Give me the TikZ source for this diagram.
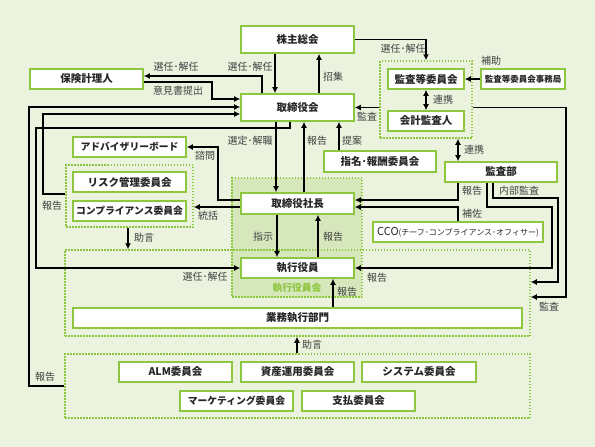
\documentclass[tikz,border=0pt]{standalone}
\usepackage{fontspec}
\setmainfont{Noto Sans CJK JP}
\usetikzlibrary{arrows.meta}
\definecolor{bg}{RGB}{235,243,222}
\definecolor{leaf}{RGB}{141,198,63}
\definecolor{panel}{RGB}{215,231,188}
\definecolor{ink}{RGB}{64,64,64}
\begin{document}
\begin{tikzpicture}[x=1pt,y=-1pt,
  box/.style={draw=leaf,line width=1.6pt,fill=white,minimum width=113pt,minimum height=20pt,
    inner sep=0pt,text=black!85,font=\fontsize{10.5}{12}\selectfont\bfseries},
  small/.style={font=\fontsize{9.8}{12}\selectfont\bfseries},
  grp/.style={draw=leaf,line width=1.5pt,dash pattern=on 1.5pt off 1.5pt,inner sep=0pt},
  lbl/.style={text=ink,inner sep=0pt,font=\fontsize{10}{11}\selectfont},
  arr/.style={line width=1.8pt,-{Latex[length=6pt,width=6pt]}},
  link/.style={line width=1.8pt,{Latex[length=6pt,width=6pt]}-{Latex[length=6pt,width=6pt]}}]
  \fill[bg] (0,0) rectangle (595,447);
  \useasboundingbox (0,0) rectangle (595,447);
  \node[grp,fill=panel,minimum width=130pt,minimum height=119pt] (yakuinkai) at (297,237.5) {};
  \node[grp,minimum width=465pt,minimum height=86pt] (shikkogrp) at (297.5,293) {};
  \node[grp,minimum width=465pt,minimum height=64pt] (botgrp) at (297.5,386) {};
  \node[grp,minimum width=127pt,minimum height=62pt] (riskgrp) at (129.5,196) {};
  \node[grp,minimum width=92pt,minimum height=77pt] (kansagrp) at (426,99.5) {};
  \node[text=leaf,inner sep=0pt,font=\fontsize{9.8}{11}\selectfont\bfseries] (yakuinkaiLbl) at (297,288) {執行役員会};

  \node[box,minimum height=27pt] (kabunushi) at (297.5,39.5) {株主総会};
  \node[box,minimum height=27pt] (torikai) at (297.5,107.5) {取締役会};
  \node[box] (hoken) at (86.5,79) {保険計理人};
  \node[box,small] (advisory) at (129.5,147) {アドバイザリーボード};
  \node[box] (risk) at (129.5,182) {リスク管理委員会};
  \node[box,small] (comp) at (129.5,211) {コンプライアンス委員会};
  \node[box,minimum height=21pt] (shacho) at (297.5,203.5) {取締役社長};
  \node[box] (shikko) at (297.5,268) {執行役員};
  \node[box,minimum width=449pt] (gyomu) at (297.5,318) {業務執行部門};
  \node[box,minimum width=112pt,minimum height=21pt] (shimei) at (380,161.5) {指名･報酬委員会};
  \node[box,minimum width=76pt] (kansaiin) at (426,79) {監査等委員会};
  \node[box,minimum width=76pt] (kaikei) at (426,121) {会計監査人};
  \node[box,minimum width=84pt,font=\fontsize{8.5}{10}\selectfont\bfseries] (jimukyoku) at (523,79) {監査等委員会事務局};
  \node[box,minimum width=112pt] (kansabu) at (501,172) {監査部};
  \node[box,minimum width=170pt,font=\mdseries] (cco) at (458,232)
    {{\fontsize{11}{12}\selectfont CCO}{\fontsize{8}{10}\selectfont(チーフ･コンプライアンス･オフィサー)}};
  \node[box] (alm) at (175.5,372) {ALM委員会};
  \node[box] (shisan) at (297.5,372) {資産運用委員会};
  \node[box,minimum width=114pt] (system) at (419,372) {システム委員会};
  \node[box,small] (marketing) at (236.5,401) {マーケティング委員会};
  \node[box] (shiharai) at (358.5,401) {支払委員会};

  \draw[arr] (kabunushi.south -| 275,0) -- (torikai.north -| 275,0);
  \draw[arr] (torikai.north -| 319,0) -- (kabunushi.south -| 319,0);
  \draw[arr] (torikai.north -| 262,0) |- (hoken.east |- 0,76);
  \draw[arr] (hoken.east |- 0,82) -| (212,99) -- (torikai.west |- 0,99);
  \draw[arr] (botgrp.west |- 0,386) -| (29,107) -- (torikai.west |- 0,107);
  \draw[arr] (riskgrp.west |- 0,194) -| (43,114) -- (torikai.west |- 0,114);
  \draw[arr] (torikai.south -| 290,0) -- (290,128) -| (36,268) -- (shikko.west);
  \draw[arr] (torikai.south -| 276,0) -- (shacho.north -| 276,0);
  \draw[arr] (shacho.north -| 304,0) -- (torikai.south -| 304,0);
  \draw[arr] (shimei.north -| 339,0) -- (torikai.south -| 339,0);
  \draw[arr] (shacho.west |- 0,200) -| (218,147) -- (advisory.east);
  \draw[arr] (shacho.west |- 0,207) -- (riskgrp.east |- 0,207);
  \draw[arr] (riskgrp.south -| 128,0) -- (shikkogrp.north -| 128,0);
  \draw[arr] (shacho.south -| 277,0) -- (shikko.north -| 277,0);
  \draw[arr] (shikko.north -| 318,0) -- (shacho.south -| 318,0);
  \draw[arr] (gyomu.north -| 333,0) -- (shikko.south -| 333,0);
  \draw[arr] (botgrp.north -| 297,0) -- (shikkogrp.south -| 297,0);
  \draw[arr] (kabunushi.east) -| (kansaiin.north |- kansagrp.north);
  \draw[arr] (jimukyoku) -- (kansaiin);
  \draw[link] (kansaiin) -- (kaikei);
  \draw[arr] (kansagrp.west |- torikai) -- (torikai.east);
  \draw[arr] (kansagrp.east |- torikai) -| (566,297) -- (shikkogrp.east |- 0,297);
  \draw[link] (kansagrp.south -| 458,0) -- (kansabu.north -| 458,0);
  \draw[arr] (kansabu.south -| 458,0) |- (shacho.east |- 0,200);
  \draw[arr] (cco.north -| 458,0) |- (shacho.east |- 0,207);
  \draw[arr] (kansabu.south -| 487,0) -- (487,207) -| (552,268) -- (shikko.east);
  \draw[arr] (kansabu.south -| 493,0) -- (493,198) -| (558,282) -- (shikkogrp.east |- 0,282);

  \node[lbl] (lSennin1) at (250,67) {選任･解任};
  \node[lbl] (lSennin2) at (176,67) {選任･解任};
  \node[lbl] (lShoshu) at (333,77) {招集};
  \node[lbl] (lIken) at (178,91) {意見書提出};
  \node[lbl] (lHokoku1) at (45,377) {報告};
  \node[lbl] (lHokoku2) at (52,206) {報告};
  \node[lbl] (lSennin3) at (205,277) {選任･解任};
  \node[lbl] (lSentei) at (250,141) {選定･解職};
  \node[lbl] (lHokoku3) at (317,141) {報告};
  \node[lbl] (lTeian) at (352,141) {提案};
  \node[lbl] (lShimon) at (205,156) {諮問};
  \node[lbl] (lTokatsu) at (208,216) {統括};
  \node[lbl] (lJogen1) at (144,238) {助言};
  \node[lbl] (lShiji) at (263,237) {指示};
  \node[lbl] (lHokoku4) at (333,237) {報告};
  \node[lbl] (lHokoku5) at (347,292) {報告};
  \node[lbl] (lJogen2) at (312,345) {助言};
  \node[lbl] (lSennin4) at (403,49) {選任･解任};
  \node[lbl] (lHojo) at (491,61) {補助};
  \node[lbl] (lRenkei1) at (443,100) {連携};
  \node[lbl] (lKansa1) at (367,117) {監査};
  \node[lbl] (lKansa2) at (549,307) {監査};
  \node[lbl] (lRenkei2) at (474,150) {連携};
  \node[lbl] (lHokoku6) at (472,191) {報告};
  \node[lbl] (lHosa) at (472,214) {補佐};
  \node[lbl] (lHokoku7) at (377,278) {報告};
  \node[lbl] (lNaibu) at (519,191) {内部監査};
\end{tikzpicture}
\end{document}
